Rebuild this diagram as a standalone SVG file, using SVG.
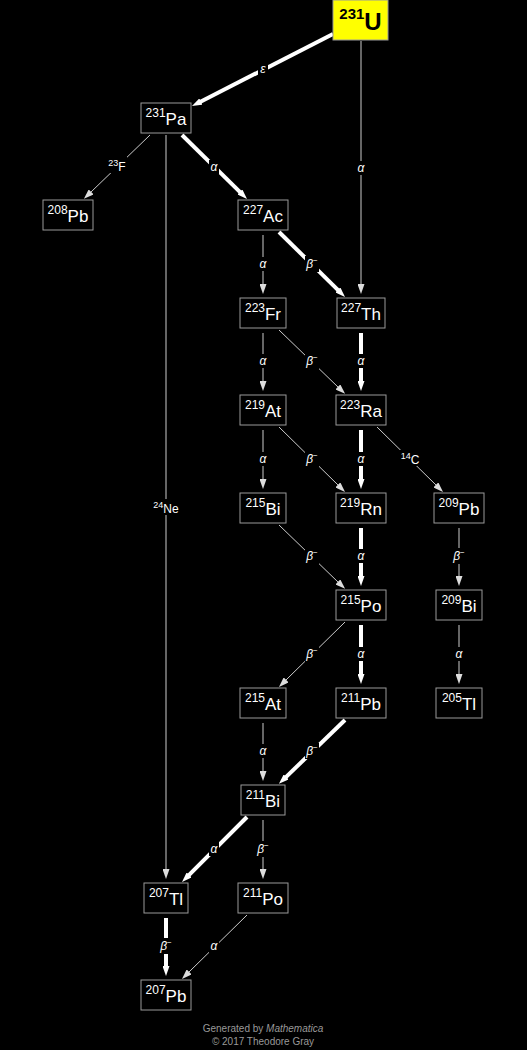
<svg xmlns="http://www.w3.org/2000/svg" width="527" height="1050" viewBox="0 0 527 1050">
<style>
.box{fill:#000;stroke:#999;stroke-width:1}
.nt{font-family:"Liberation Sans",Arial,sans-serif;fill:#fff;text-anchor:middle}
.thin{stroke:#ccc;stroke-width:1;fill:none}
.thick{stroke:#fff;stroke-width:4;fill:none}
.lbl{font-family:"Liberation Sans",Arial,sans-serif;fill:#fff;font-size:12px;text-anchor:middle}
.lb{fill:#000}
.foot{font-family:"Liberation Sans",Arial,sans-serif;fill:#999;font-size:10px;text-anchor:middle}
</style>
<defs>
<marker id="ah" markerUnits="userSpaceOnUse" markerWidth="10" markerHeight="7" refX="1" refY="3.5" orient="auto"><path d="M0,0 L10,3.5 L0,7 z" fill="#fff"/></marker>
<marker id="ahs" markerUnits="userSpaceOnUse" markerWidth="10" markerHeight="7" refX="1" refY="3.5" orient="auto"><path d="M0,0 L10,3.5 L0,7 z" fill="#ddd"/></marker>
</defs>
<rect width="527" height="1050" fill="#000"/>
<g id="connectors">
<line class="thick" x1="333" y1="34" x2="200" y2="102" marker-end="url(#ah)"/>
<line class="thin" x1="361" y1="41" x2="361" y2="285" marker-end="url(#ahs)"/>
<line class="thin" x1="150" y1="135" x2="90.4" y2="192.6" marker-end="url(#ahs)"/>
<line class="thick" x1="182" y1="135" x2="240.6" y2="192.6" marker-end="url(#ah)"/>
<line class="thin" x1="166" y1="135" x2="166" y2="870" marker-end="url(#ahs)"/>
<line class="thin" x1="263" y1="235" x2="263" y2="285" marker-end="url(#ahs)"/>
<line class="thick" x1="279" y1="232" x2="338.6" y2="290.6" marker-end="url(#ah)"/>
<line class="thin" x1="263" y1="333" x2="263" y2="382" marker-end="url(#ahs)"/>
<line class="thin" x1="279" y1="330" x2="338.6" y2="387.6" marker-end="url(#ahs)"/>
<line class="thick" x1="361" y1="333" x2="361" y2="382" marker-end="url(#ah)"/>
<line class="thin" x1="263" y1="430" x2="263" y2="480" marker-end="url(#ahs)"/>
<line class="thin" x1="279" y1="427" x2="338.6" y2="485.6" marker-end="url(#ahs)"/>
<line class="thick" x1="361" y1="430" x2="361" y2="480" marker-end="url(#ah)"/>
<line class="thin" x1="377" y1="427" x2="436.6" y2="485.6" marker-end="url(#ahs)"/>
<line class="thin" x1="279" y1="525" x2="338.6" y2="582.6" marker-end="url(#ahs)"/>
<line class="thick" x1="361" y1="528" x2="361" y2="577" marker-end="url(#ah)"/>
<line class="thin" x1="459" y1="528" x2="459" y2="577" marker-end="url(#ahs)"/>
<line class="thin" x1="345" y1="622" x2="285.4" y2="680.6" marker-end="url(#ahs)"/>
<line class="thick" x1="361" y1="625" x2="361" y2="675" marker-end="url(#ah)"/>
<line class="thin" x1="459" y1="625" x2="459" y2="675" marker-end="url(#ahs)"/>
<line class="thin" x1="263" y1="723" x2="263" y2="772" marker-end="url(#ahs)"/>
<line class="thick" x1="345" y1="720" x2="285.4" y2="777.6" marker-end="url(#ah)"/>
<line class="thick" x1="247" y1="817" x2="188.4" y2="875.6" marker-end="url(#ah)"/>
<line class="thin" x1="263" y1="820" x2="263" y2="870" marker-end="url(#ahs)"/>
<line class="thick" x1="166" y1="918" x2="166" y2="967" marker-end="url(#ah)"/>
<line class="thin" x1="247" y1="915" x2="188.4" y2="972.6" marker-end="url(#ahs)"/>
</g>
<g id="labels">
<rect class="lb" x="258" y="62" width="10" height="14"/><text class="lbl" x="263" y="73" font-style="italic">ε</text>
<rect class="lb" x="356" y="161" width="10" height="14"/><text class="lbl" x="361" y="172" font-style="italic">α</text>
<rect class="lb" x="107" y="157" width="20" height="16"/><text class="lbl" x="117" y="171"><tspan font-size="9" dy="-5">23</tspan><tspan dy="5">F</tspan></text>
<rect class="lb" x="209" y="160" width="10" height="14"/><text class="lbl" x="214" y="171" font-style="italic">α</text>
<rect class="lb" x="152" y="499" width="28" height="16"/><text class="lbl" x="166" y="513"><tspan font-size="9" dy="-5">24</tspan><tspan dy="5">Ne</tspan></text>
<rect class="lb" x="258" y="257" width="10" height="14"/><text class="lbl" x="263" y="268" font-style="italic">α</text>
<rect class="lb" x="305" y="256" width="14" height="16"/><text class="lbl" x="312" y="268"><tspan font-style="italic">β</tspan><tspan font-size="8" dy="-5">−</tspan></text>
<rect class="lb" x="258" y="354" width="10" height="14"/><text class="lbl" x="263" y="365" font-style="italic">α</text>
<rect class="lb" x="305" y="353" width="14" height="16"/><text class="lbl" x="312" y="365"><tspan font-style="italic">β</tspan><tspan font-size="8" dy="-5">−</tspan></text>
<rect class="lb" x="356" y="354" width="10" height="14"/><text class="lbl" x="361" y="365" font-style="italic">α</text>
<rect class="lb" x="258" y="452" width="10" height="14"/><text class="lbl" x="263" y="463" font-style="italic">α</text>
<rect class="lb" x="305" y="451" width="14" height="16"/><text class="lbl" x="312" y="463"><tspan font-style="italic">β</tspan><tspan font-size="8" dy="-5">−</tspan></text>
<rect class="lb" x="356" y="452" width="10" height="14"/><text class="lbl" x="361" y="463" font-style="italic">α</text>
<rect class="lb" x="400" y="450" width="20" height="16"/><text class="lbl" x="410" y="464"><tspan font-size="9" dy="-5">14</tspan><tspan dy="5">C</tspan></text>
<rect class="lb" x="305" y="548" width="14" height="16"/><text class="lbl" x="312" y="560"><tspan font-style="italic">β</tspan><tspan font-size="8" dy="-5">−</tspan></text>
<rect class="lb" x="356" y="549" width="10" height="14"/><text class="lbl" x="361" y="560" font-style="italic">α</text>
<rect class="lb" x="452" y="548" width="14" height="16"/><text class="lbl" x="459" y="560"><tspan font-style="italic">β</tspan><tspan font-size="8" dy="-5">−</tspan></text>
<rect class="lb" x="305" y="646" width="14" height="16"/><text class="lbl" x="312" y="658"><tspan font-style="italic">β</tspan><tspan font-size="8" dy="-5">−</tspan></text>
<rect class="lb" x="356" y="647" width="10" height="14"/><text class="lbl" x="361" y="658" font-style="italic">α</text>
<rect class="lb" x="454" y="647" width="10" height="14"/><text class="lbl" x="459" y="658" font-style="italic">α</text>
<rect class="lb" x="258" y="744" width="10" height="14"/><text class="lbl" x="263" y="755" font-style="italic">α</text>
<rect class="lb" x="305" y="743" width="14" height="16"/><text class="lbl" x="312" y="755"><tspan font-style="italic">β</tspan><tspan font-size="8" dy="-5">−</tspan></text>
<rect class="lb" x="209" y="842" width="10" height="14"/><text class="lbl" x="214" y="853" font-style="italic">α</text>
<rect class="lb" x="256" y="841" width="14" height="16"/><text class="lbl" x="263" y="853"><tspan font-style="italic">β</tspan><tspan font-size="8" dy="-5">−</tspan></text>
<rect class="lb" x="159" y="938" width="14" height="16"/><text class="lbl" x="166" y="950"><tspan font-style="italic">β</tspan><tspan font-size="8" dy="-5">−</tspan></text>
<rect class="lb" x="209" y="939" width="10" height="14"/><text class="lbl" x="214" y="950" font-style="italic">α</text>
</g>
<g id="U231"><rect x="333" y="0" width="55" height="40" fill="#ffff00" stroke="#999"/><text x="360.5" y="30" text-anchor="middle" font-family="Liberation Sans, Arial, sans-serif" font-weight="bold" fill="#000"><tspan font-size="15" dy="-11">231</tspan><tspan font-size="24" dy="11">U</tspan></text></g>
<g id="Pa231"><rect class="box" x="141" y="103" width="50" height="30"/><text class="nt" x="166" y="125"><tspan font-size="12" dy="-8">231</tspan><tspan font-size="17" dy="8">Pa</tspan></text></g>
<g id="Pb208"><rect class="box" x="43" y="200" width="50" height="30"/><text class="nt" x="68" y="222"><tspan font-size="12" dy="-8">208</tspan><tspan font-size="17" dy="8">Pb</tspan></text></g>
<g id="Ac227"><rect class="box" x="238" y="200" width="50" height="30"/><text class="nt" x="263" y="222"><tspan font-size="12" dy="-8">227</tspan><tspan font-size="17" dy="8">Ac</tspan></text></g>
<g id="Fr223"><rect class="box" x="240" y="298" width="46" height="30"/><text class="nt" x="263" y="320"><tspan font-size="12" dy="-8">223</tspan><tspan font-size="17" dy="8">Fr</tspan></text></g>
<g id="Th227"><rect class="box" x="337" y="298" width="48" height="30"/><text class="nt" x="361" y="320"><tspan font-size="12" dy="-8">227</tspan><tspan font-size="17" dy="8">Th</tspan></text></g>
<g id="At219"><rect class="box" x="240" y="395" width="46" height="30"/><text class="nt" x="263" y="417"><tspan font-size="12" dy="-8">219</tspan><tspan font-size="17" dy="8">At</tspan></text></g>
<g id="Ra223"><rect class="box" x="336" y="395" width="50" height="30"/><text class="nt" x="361" y="417"><tspan font-size="12" dy="-8">223</tspan><tspan font-size="17" dy="8">Ra</tspan></text></g>
<g id="Bi215"><rect class="box" x="240" y="493" width="46" height="30"/><text class="nt" x="263" y="515"><tspan font-size="12" dy="-8">215</tspan><tspan font-size="17" dy="8">Bi</tspan></text></g>
<g id="Rn219"><rect class="box" x="336" y="493" width="50" height="30"/><text class="nt" x="361" y="515"><tspan font-size="12" dy="-8">219</tspan><tspan font-size="17" dy="8">Rn</tspan></text></g>
<g id="Pb209"><rect class="box" x="434" y="493" width="50" height="30"/><text class="nt" x="459" y="515"><tspan font-size="12" dy="-8">209</tspan><tspan font-size="17" dy="8">Pb</tspan></text></g>
<g id="Po215"><rect class="box" x="336" y="590" width="50" height="30"/><text class="nt" x="361" y="612"><tspan font-size="12" dy="-8">215</tspan><tspan font-size="17" dy="8">Po</tspan></text></g>
<g id="Bi209"><rect class="box" x="436" y="590" width="46" height="30"/><text class="nt" x="459" y="612"><tspan font-size="12" dy="-8">209</tspan><tspan font-size="17" dy="8">Bi</tspan></text></g>
<g id="At215"><rect class="box" x="240" y="688" width="46" height="30"/><text class="nt" x="263" y="710"><tspan font-size="12" dy="-8">215</tspan><tspan font-size="17" dy="8">At</tspan></text></g>
<g id="Pb211"><rect class="box" x="336" y="688" width="50" height="30"/><text class="nt" x="361" y="710"><tspan font-size="12" dy="-8">211</tspan><tspan font-size="17" dy="8">Pb</tspan></text></g>
<g id="Tl205"><rect class="box" x="436" y="688" width="46" height="30"/><text class="nt" x="459" y="710"><tspan font-size="12" dy="-8">205</tspan><tspan font-size="17" dy="8">Tl</tspan></text></g>
<g id="Bi211"><rect class="box" x="241" y="785" width="44" height="30"/><text class="nt" x="263" y="807"><tspan font-size="12" dy="-8">211</tspan><tspan font-size="17" dy="8">Bi</tspan></text></g>
<g id="Tl207"><rect class="box" x="144" y="883" width="44" height="30"/><text class="nt" x="166" y="905"><tspan font-size="12" dy="-8">207</tspan><tspan font-size="17" dy="8">Tl</tspan></text></g>
<g id="Po211"><rect class="box" x="238" y="883" width="50" height="30"/><text class="nt" x="263" y="905"><tspan font-size="12" dy="-8">211</tspan><tspan font-size="17" dy="8">Po</tspan></text></g>
<g id="Pb207"><rect class="box" x="141" y="980" width="50" height="30"/><text class="nt" x="166" y="1002"><tspan font-size="12" dy="-8">207</tspan><tspan font-size="17" dy="8">Pb</tspan></text></g>
<text class="foot" x="263" y="1032">Generated by <tspan font-style="italic">Mathematica</tspan></text>
<text class="foot" x="263" y="1045">© 2017 Theodore Gray</text>
</svg>
